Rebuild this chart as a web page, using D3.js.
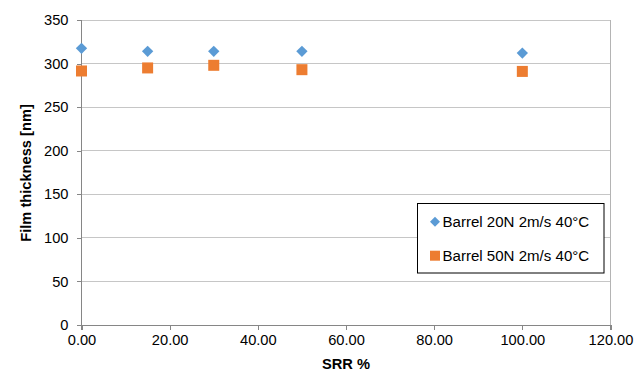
<!DOCTYPE html>
<html><head><meta charset="utf-8">
<script src="https://cdn.jsdelivr.net/npm/d3@7"></script>
<style>body{margin:0;background:#fff}svg{display:block}text{font-family:"Liberation Sans",Arial,sans-serif}</style>
</head><body><svg id="c" width="644" height="371"></svg>
<script>
const srr = [0, 15, 30, 50, 100];
const series1Name = "Barrel 20N 2m/s 40°C";
const series1 = [317.5, 314, 314, 314, 312];
const series2Name = "Barrel 50N 2m/s 40°C";
const series2 = [291.5, 295, 298, 293, 291];
const xTicks = [0, 20, 40, 60, 80, 100, 120];
const yTicks = [0, 50, 100, 150, 200, 250, 300, 350];

const FS = 14.67;
const svg = d3.select("#c");
const L = 81.5, R = 610.5, T = 20, B = 325;
const x = d3.scaleLinear().domain([0, 120]).range([L, R]);
const y = d3.scaleLinear().domain([0, 350]).range([B, T]);

// gridlines
svg.append("g").selectAll("line").data(yTicks.slice(1)).join("line")
  .attr("x1", L).attr("x2", R).attr("y1", d => y(d)).attr("y2", d => y(d))
  .attr("stroke", "#c6c6c6").attr("stroke-width", 1).attr("shape-rendering", "crispEdges");
// right border
svg.append("line").attr("x1", R).attr("x2", R).attr("y1", T).attr("y2", B)
  .attr("stroke", "#b4b4b4").attr("shape-rendering", "crispEdges");

const yAxis = svg.append("g").attr("transform", `translate(${L},0)`)
  .call(d3.axisLeft(y).tickValues(yTicks).tickSize(5).tickPadding(8).tickFormat(d3.format("d")));
const xAxis = svg.append("g").attr("transform", `translate(0,${B})`)
  .call(d3.axisBottom(x).tickValues(xTicks).tickSize(5).tickPadding(5).tickFormat(d3.format(".2f")));
[yAxis, xAxis].forEach(a => {
  a.selectAll("path,line").attr("stroke", "#868686").attr("shape-rendering", "crispEdges");
  a.selectAll("text").attr("font-size", FS).attr("fill", "#000").style("font-family", '"Liberation Sans",Arial,sans-serif');
});
yAxis.select(".domain").attr("d", `M-5,${B}H0V${T}H-5`);
xAxis.select(".domain").attr("d", `M${L},5V0H${R}V5`);

// axis titles
svg.append("text").attr("x", x(60)).attr("y", 369).attr("text-anchor", "middle")
  .attr("font-size", FS).attr("font-weight", "bold").text("SRR %");
svg.append("text").attr("transform", `translate(31,173) rotate(-90)`)
  .attr("text-anchor", "middle").attr("font-size", FS).attr("font-weight", "bold").text("Film thickness [nm]");

const blue = "#5b9bd5", orange = "#ed7d31";
const diamond = d3.symbol().type(d3.symbolSquare).size(64);
svg.append("g").selectAll("path").data(srr).join("path")
  .attr("d", diamond).attr("transform", (d, i) => `translate(${x(d)},${y(series1[i])}) rotate(45)`)
  .attr("fill", blue);
svg.append("g").selectAll("rect").data(srr).join("rect")
  .attr("x", d => x(d) - 5.5).attr("y", (d, i) => y(series2[i]) - 5.5)
  .attr("width", 11).attr("height", 11).attr("fill", orange);

// legend
const lg = svg.append("g");
lg.append("rect").attr("x", 417.5).attr("y", 203.5).attr("width", 186.5).attr("height", 69.5)
  .attr("fill", "#fff").attr("stroke", "#000").attr("stroke-width", 1);
lg.append("path").attr("d", d3.symbol().type(d3.symbolSquare).size(50))
  .attr("transform", "translate(435,221.7) rotate(45)").attr("fill", blue);
lg.append("rect").attr("x", 430).attr("y", 250.7).attr("width", 10).attr("height", 10).attr("fill", orange);
lg.append("text").attr("x", 442.5).attr("y", 226.7).attr("font-size", FS + 0.4).text(series1Name);
lg.append("text").attr("x", 442.5).attr("y", 261).attr("font-size", FS + 0.4).text(series2Name);
</script></body></html>
